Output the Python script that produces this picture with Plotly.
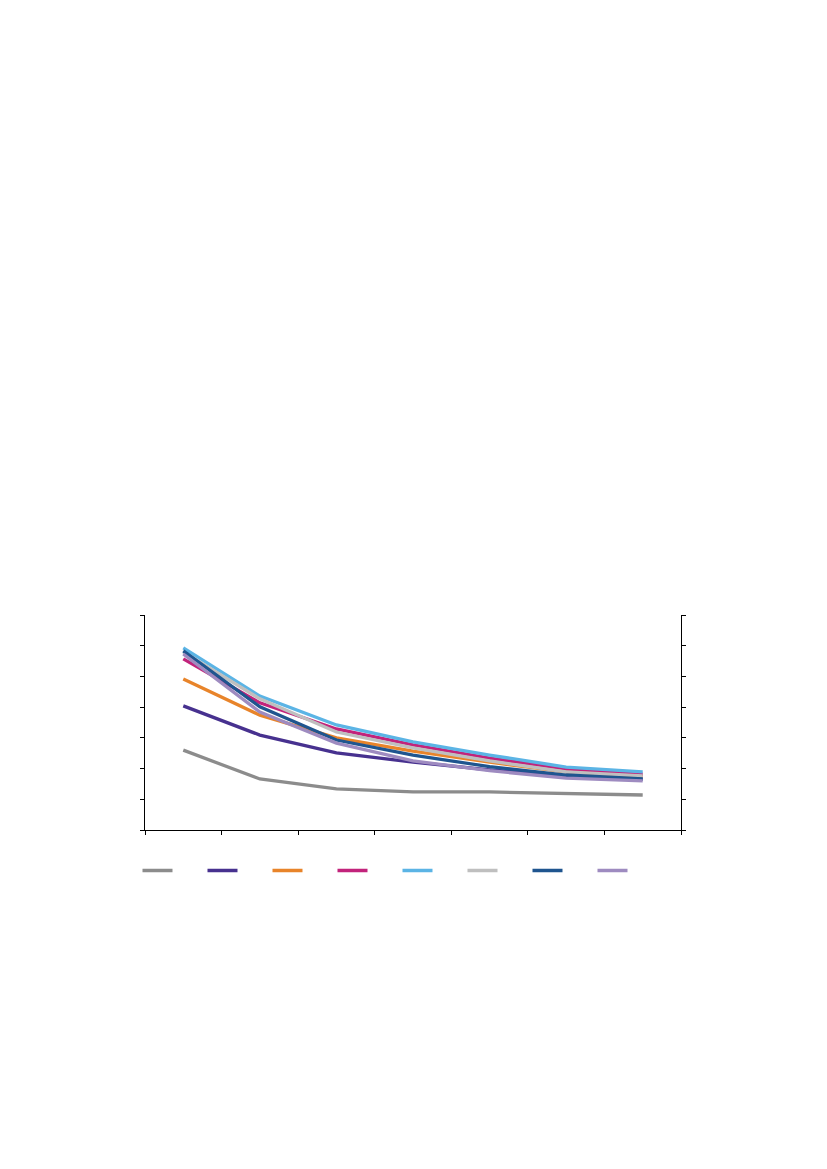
import plotly.graph_objects as go

categories = ["1", "2", "3", "4", "5", "6", "7"]

gray = [26.0, 16.6, 13.4, 12.4, 12.4, 12.0, 11.4]
purple = [40.4, 30.9, 25.1, 22.1, 19.6, 17.5, 16.6]
orange = [49.2, 37.4, 30.0, 25.7, 22.1, 18.9, 17.6]
magenta = [55.7, 41.4, 32.9, 27.7, 23.4, 19.9, 18.2]
light_blue = [59.3, 43.6, 34.2, 28.7, 24.4, 20.5, 18.9]
light_gray = [58.0, 42.7, 31.9, 26.7, 22.5, 18.9, 17.6]
navy = [58.3, 40.1, 29.3, 24.4, 20.6, 17.9, 16.6]
lavender = [57.3, 38.4, 28.3, 22.5, 19.3, 16.9, 16.0]

series = [
    (gray, "#8c8c8c"),
    (purple, "#47318f"),
    (orange, "#e8842a"),
    (magenta, "#c2237b"),
    (light_blue, "#5bb4e5"),
    (light_gray, "#bfbfbf"),
    (navy, "#1f558f"),
    (lavender, "#9e8bc0"),
]

fig = go.Figure()
for vals, col in series:
    fig.add_trace(go.Scatter(x=categories, y=vals, mode="lines", name="",
                             line=dict(color=col, width=3.3)))

# page has ~8px body margin, so the figure is shifted by that much
fig.update_layout(
    width=811, height=1161,
    margin=dict(l=137, r=138, t=607, b=339),
    paper_bgcolor="white", plot_bgcolor="white",
    showlegend=True,
    legend=dict(orientation="h", x=-0.014, y=-0.121, xanchor="left", yanchor="top",
                entrywidth=20, entrywidthmode="pixels", font=dict(size=10)),
)
fig.update_xaxes(type="category", range=[-0.5, 6.5], tickson="boundaries",
                 ticks="outside", ticklen=4,
                 showticklabels=False, showgrid=False, showline=True,
                 linecolor="black", linewidth=1, tickcolor="black", zeroline=False)
fig.update_yaxes(range=[0, 70], dtick=10, ticks="outside", ticklen=4,
                 showticklabels=False, showgrid=False, showline=True, mirror="ticks",
                 linecolor="black", linewidth=1, tickcolor="black", zeroline=False)

fig.write_html("out.html")
